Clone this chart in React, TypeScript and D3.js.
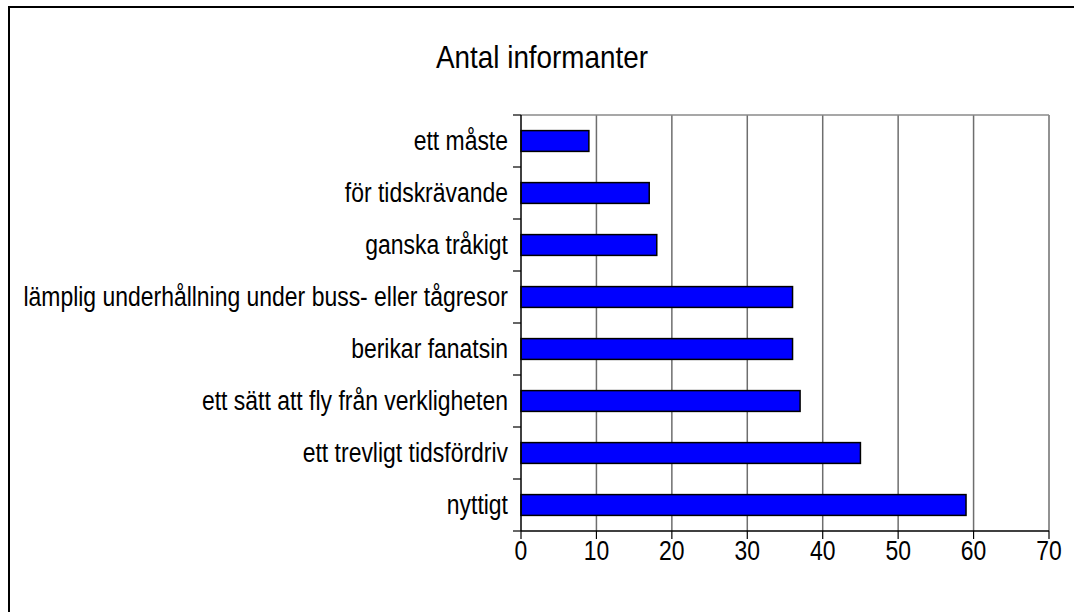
import { useEffect, useRef } from "react";
import * as d3 from "d3";

const categories = [
  "ett måste",
  "för tidskrävande",
  "ganska tråkigt",
  "lämplig underhållning under buss- eller tågresor",
  "berikar fanatsin",
  "ett sätt att fly från verkligheten",
  "ett trevligt tidsfördriv",
  "nyttigt",
];
const counts = [9, 17, 18, 36, 36, 37, 45, 59];
const xTicks = [0, 10, 20, 30, 40, 50, 60, 70];
const TITLE = "Antal informanter";

const W = 1074, H = 612;
const PLOT = { left: 521, right: 1049, top: 115, bottom: 531 };
const FONT = "'Liberation Sans Narrow','Arial Narrow','Liberation Sans',Arial,sans-serif";

export default function App() {
  const svgRef = useRef<SVGSVGElement>(null);

  useEffect(() => {
    if (!svgRef.current) return;
    const svg = d3.select(svgRef.current);
    svg.selectAll("*").remove();

    svg.append("rect").attr("width", W).attr("height", H).attr("fill", "#fff");
    // outer frame (continues past the picture's right and bottom edge)
    svg.append("rect").attr("x", 9).attr("y", 7).attr("width", W + 20).attr("height", H + 20)
      .attr("fill", "none").attr("stroke", "#000").attr("stroke-width", 2);

    const x = d3.scaleLinear().domain([0, 70]).range([PLOT.left, PLOT.right]);
    const y = d3.scaleBand().domain(categories).range([PLOT.top, PLOT.bottom]).padding(0);
    const bw = y.bandwidth();

    // the original uses a narrow face, so glyphs are squeezed horizontally
    const label = (parent: d3.Selection<any, any, any, any>, tx: number, ty: number, txt: string,
                   size: number, sx: number, anchor: string) =>
      parent.append("g").attr("transform", `translate(${tx},${ty})`)
        .append("text").attr("transform", `scale(${sx},1)`)
        .attr("dy", "0.35em").attr("text-anchor", anchor)
        .attr("font-family", FONT).attr("font-size", size).attr("fill", "#000").text(txt);

    // grid
    svg.append("g").selectAll("line").data(xTicks.slice(1)).join("line")
      .attr("x1", d => x(d)).attr("x2", d => x(d))
      .attr("y1", PLOT.top).attr("y2", PLOT.bottom)
      .attr("stroke", "#6e6e6e").attr("stroke-width", 1.5);
    svg.append("line").attr("x1", PLOT.left).attr("x2", PLOT.right)
      .attr("y1", PLOT.top).attr("y2", PLOT.top)
      .attr("stroke", "#8a8a8a").attr("stroke-width", 1.5);

    // bars
    svg.append("g").selectAll("rect").data(categories).join("rect")
      .attr("x", x(0))
      .attr("y", d => y(d)! + bw * 0.3)
      .attr("width", (_, i) => x(counts[i]) - x(0))
      .attr("height", bw * 0.4)
      .attr("fill", "#0000ff").attr("stroke", "#000").attr("stroke-width", 1.5);

    // y axis
    const ya = svg.append("g");
    ya.append("line").attr("x1", PLOT.left).attr("x2", PLOT.left).attr("y1", PLOT.top).attr("y2", PLOT.bottom)
      .attr("stroke", "#000").attr("stroke-width", 1.5);
    const yBounds = [...categories.map(c => y(c)!), PLOT.bottom];
    ya.selectAll(".tk").data(yBounds).join("line").attr("class", "tk")
      .attr("x1", PLOT.left - 8).attr("x2", PLOT.left).attr("y1", d => d).attr("y2", d => d)
      .attr("stroke", "#000").attr("stroke-width", 1.2);
    categories.forEach(c => label(ya, PLOT.left - 13, y(c)! + bw / 2, c, 27, 0.85, "end"));

    // x axis
    const xa = svg.append("g");
    xa.append("line").attr("x1", PLOT.left).attr("x2", PLOT.right).attr("y1", PLOT.bottom).attr("y2", PLOT.bottom)
      .attr("stroke", "#000").attr("stroke-width", 1.5);
    xa.selectAll(".tk").data(xTicks).join("line").attr("class", "tk")
      .attr("x1", d => x(d)).attr("x2", d => x(d)).attr("y1", PLOT.bottom).attr("y2", PLOT.bottom + 8)
      .attr("stroke", "#000").attr("stroke-width", 1.2);
    xTicks.forEach(t => label(xa, x(t), PLOT.bottom + 20, String(t), 27, 0.85, "middle"));

    label(svg, 542, 57, TITLE, 32, 0.87, "middle");
  }, []);

  return (
    <svg ref={svgRef} width={W} height={H}
      style={{ position: "absolute", left: 0, top: 0, display: "block" }} />
  );
}
